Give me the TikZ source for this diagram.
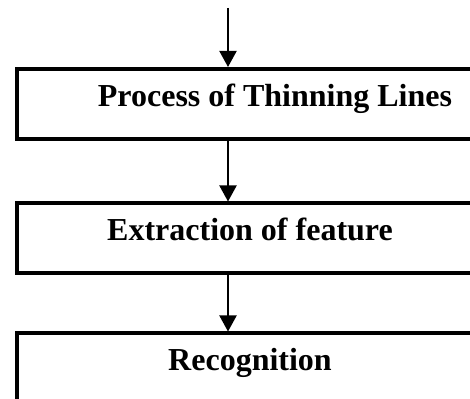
\documentclass[tikz,border=0pt]{standalone}
\usepackage{fontspec}
\setmainfont{Liberation Serif}
\usetikzlibrary{arrows.meta}
\tikzset{
  stage/.style={draw, line width=4pt, minimum width=467pt, minimum height=70pt,
    inner sep=0pt, text height=0.7em, text depth=0.25em,
    font=\fontsize{32}{38}\selectfont\bfseries},
  flow/.style={line width=2pt, -{Triangle[width=17pt,length=16pt]}}
}
\begin{document}
\begin{tikzpicture}[x=1pt,y=1pt]
  \useasboundingbox (0,0) rectangle (470,398);
  \clip (0,0) rectangle (470,398);
  \coordinate (in) at (228,390);
  \node[stage, anchor=north west] (thin) at (14.5,331) {\hspace*{50pt}Process of Thinning Lines};
  \node[stage, anchor=north west] (feat) at (14.5,196.5) {Extraction of feature};
  \node[stage, anchor=north west] (recog) at (14.5,66.5) {Recognition};
  \draw[flow] (in) -- (in |- thin.north);
  \draw[flow] (thin.south -| in) -- (feat.north -| in);
  \draw[flow] (feat.south -| in) -- (recog.north -| in);
\end{tikzpicture}
\end{document}
